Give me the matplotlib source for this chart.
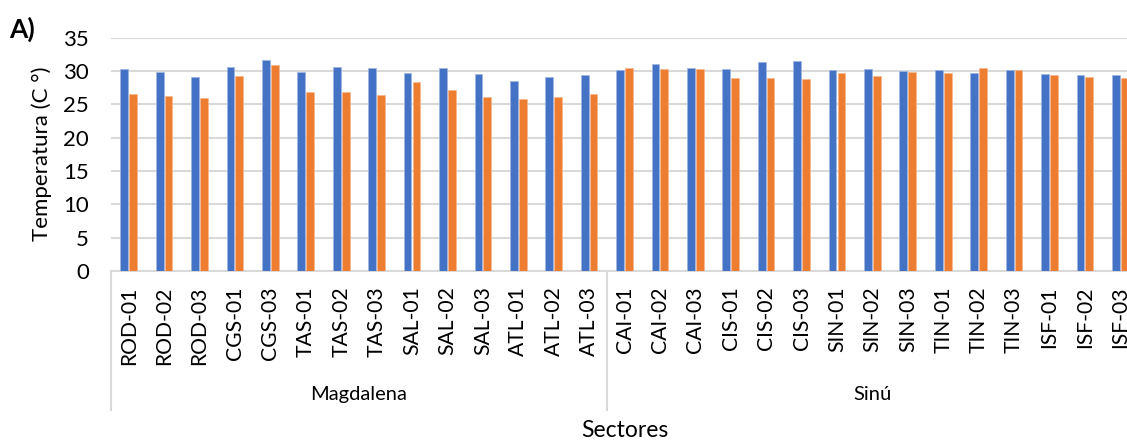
import numpy as np
import matplotlib.pyplot as plt
import matplotlib.transforms as mtransforms

plt.rcParams['font.family'] = ['Lato', 'DejaVu Sans']

sites = ["ROD-01", "ROD-02", "ROD-03", "CGS-01", "CGS-03", "TAS-01", "TAS-02",
         "TAS-03", "SAL-01", "SAL-02", "SAL-03", "ATL-01", "ATL-02", "ATL-03",
         "CAI-01", "CAI-02", "CAI-03", "CIS-01", "CIS-02", "CIS-03", "SIN-01",
         "SIN-02", "SIN-03", "TIN-01", "TIN-02", "TIN-03", "ISF-01", "ISF-02", "ISF-03"]
regions = ["Magdalena", "Sinú"]
region_sizes = [14, 15]

temp_blue = [30.3, 29.9, 29.1, 30.6, 31.6, 29.9, 30.6, 30.4, 29.7, 30.4, 29.6, 28.5, 29.1, 29.4,
             30.2, 31.0, 30.45, 30.25, 31.3, 31.5, 30.15, 30.25, 29.95, 30.15, 29.7, 30.15,
             29.6, 29.4, 29.35]
temp_orange = [26.6, 26.2, 25.9, 29.3, 30.9, 26.8, 26.8, 26.4, 28.4, 27.1, 26.1, 25.8, 26.1, 26.5,
               30.4, 30.25, 30.25, 29.0, 28.9, 28.8, 29.75, 29.25, 29.8, 29.7, 30.4, 30.15,
               29.35, 29.15, 28.95]

W, H = 1127, 440
fig = plt.figure(figsize=(W / 100, H / 100), dpi=100)
left, right, bottom, top = 111, 1138, 271, 37.5
ax = fig.add_axes([left / W, 1 - bottom / H, (right - left) / W, (bottom - top) / H])

x = np.arange(len(sites))
bw = 0.22
ax.bar(x - 0.125, temp_blue, bw, color="#4472C4", edgecolor="#9FB6E0", linewidth=0.5, zorder=3)
ax.bar(x + 0.125, temp_orange, bw, color="#ED7D31", edgecolor="#F6B68E", linewidth=0.5, zorder=3)

ax.set_xlim(-0.5, len(sites) - 0.5)
ax.set_ylim(0, 35)
ax.set_yticks(range(0, 36, 5))
ax.yaxis.grid(True, color="#D9D9D9", linewidth=1.5, zorder=0)
ax.tick_params(axis="y", length=0, pad=16, labelsize=16, colors="black")
ax.set_xticks([])
for s in ["top", "right", "left"]:
    ax.spines[s].set_visible(False)
ax.spines["bottom"].set_color("#D9D9D9")
ax.spines["bottom"].set_linewidth(1.5)

# two-level category axis below the plot
trans = mtransforms.blended_transform_factory(ax.transData, ax.transAxes)
for xi, name in zip(x, sites):
    ax.text(xi, -0.065, name, rotation=90, ha="center", va="top", fontsize=15.2,
            transform=trans)

start = 0
bounds = [start]
for reg, n in zip(regions, region_sizes):
    ax.text(start + (n - 1) / 2, -0.527, reg, ha="center", va="center", fontsize=14.5,
            transform=trans)
    start += n
    bounds.append(start)
for b in bounds[:-1]:
    ax.plot([b - 0.5, b - 0.5], [0, -0.595], color="#D9D9D9", linewidth=1.5,
            transform=trans, clip_on=False)

fig.text(625 / W, 1 - 430 / H, "Sectores", ha="center", va="center", fontsize=16.5)
fig.text(42 / W, 1 - 154 / H, "Temperatura (C °)", rotation=90, ha="center", va="center",
         fontsize=16)
fig.text(9 / W, 1 - 29 / H, "A)", ha="left", va="center", fontsize=19, fontweight="bold")

fig.savefig("out.png", dpi=100)
